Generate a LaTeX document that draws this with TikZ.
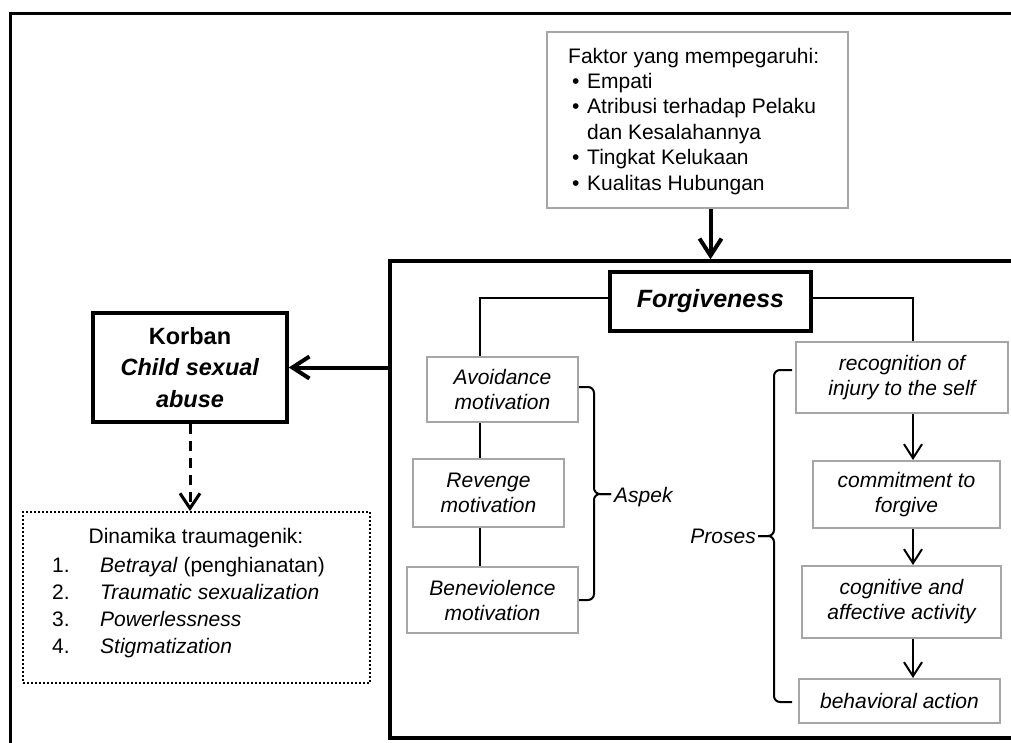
\documentclass[tikz,border=0pt]{standalone}
\usepackage{fontspec}
\setmainfont{Liberation Sans}
\usetikzlibrary{arrows.meta,calc}
\definecolor{boxgray}{RGB}{166,166,166}

\begin{document}
\begin{tikzpicture}[x=1pt,y=-1pt,
  every node/.style={inner sep=0pt, font=\fontsize{21}{25}\selectfont},
  graybox/.style={draw=boxgray, line width=2pt, align=center,
    font=\fontsize{21}{25}\selectfont\itshape},
  heavybox/.style={draw=black, line width=3.5pt, align=center},
  link/.style={line width=2pt},
  flow/.style={line width=2pt, -{Straight Barb[length=14pt,width=18pt]}},
  bigflow/.style={line width=4pt, -{Straight Barb[length=17pt,width=22pt]}},
  dashflow/.style={line width=3pt, dash pattern=on 10pt off 7pt,
    -{Straight Barb[length=15pt,width=20pt]}},
  bracket/.style={line width=2pt, rounded corners=6pt}
]
\useasboundingbox (0,0) rectangle (1011,742);
\clip (0,0) rectangle (1011,742);

% outer frame (runs off the page on the right and bottom)
\draw[line width=3pt] (10,800) -- (10,13) -- (1100,13);

% large frame holding the forgiveness part
\node[draw, line width=3.5pt, minimum width=710pt, minimum height=477pt] (frame) at (745,499.5) {};

% influencing factors
\node[graybox, minimum width=301pt, minimum height=176pt] (factor) at (697.5,120) {};
\node[anchor=base west] (factortext) at (568,63) {\fontsize{21}{25.4}\selectfont
  \begin{tabular}[t]{@{}l@{}}
  Faktor yang mempegaruhi:\\
  \hspace*{4pt}\makebox[15pt][l]{\textbullet}Empati\\
  \hspace*{4pt}\makebox[15pt][l]{\textbullet}Atribusi terhadap Pelaku\\
  \hspace*{19pt}dan Kesalahannya\\
  \hspace*{4pt}\makebox[15pt][l]{\textbullet}Tingkat Kelukaan\\
  \hspace*{4pt}\makebox[15pt][l]{\textbullet}Kualitas Hubungan
  \end{tabular}};

% central concept
\node[heavybox, minimum width=201pt, minimum height=59pt,
  font=\fontsize{25}{30}\selectfont\bfseries\itshape] (forg) at (710.5,301.5) {Forgiveness};

% victim
\node[heavybox, minimum width=194pt, minimum height=109pt,
  font=\fontsize{23.5}{31.5}\selectfont\bfseries] (korban) at (190,367.5)
  {Korban\\\textit{Child sexual}\\\textit{abuse}};

% traumagenic dynamics
\node[draw, line width=2pt, dash pattern=on 2pt off 2pt,
  minimum width=347pt, minimum height=171pt] (dyn) at (196.5,597.5) {};
\node[anchor=base] (dyntitle) at (196,543) {Dinamika traumagenik:};
\node[anchor=base west] (dynlist) at (52,572) {\fontsize{21}{27}\selectfont
  \begin{tabular}[t]{@{}l@{}}
  \makebox[48pt][l]{1.}\textit{Betrayal} (penghianatan)\\
  \makebox[48pt][l]{2.}\textit{Traumatic sexualization}\\
  \makebox[48pt][l]{3.}\textit{Powerlessness}\\
  \makebox[48pt][l]{4.}\textit{Stigmatization}
  \end{tabular}};

% aspects
\node[graybox, minimum width=151pt, minimum height=65pt] (avoid) at (502.5,389.5) {Avoidance\\motivation};
\node[graybox, minimum width=151pt, minimum height=68pt] (revenge) at (488.5,493) {Revenge\\motivation};
\node[graybox, minimum width=171pt, minimum height=66pt] (benev) at (492.5,600) {Beneviolence\\motivation};

% process steps
\node[graybox, minimum width=212pt, minimum height=71pt] (recog) at (902,377.5) {recognition of\\injury to the self};
\node[graybox, minimum width=187pt, minimum height=67pt] (commit) at (906.5,494.5) {commitment to\\forgive};
\node[graybox, minimum width=199pt, minimum height=72pt] (cogn) at (901.5,602) {cognitive and\\affective activity};
\node[graybox, minimum width=201pt, minimum height=44pt] (behav) at (899.5,701) {behavioral action};

\coordinate (lspine) at (480,0);
\coordinate (rspine) at (913,0);

% connectors
\draw[bigflow] (factor.south -| forg.north) -- (forg.north |- frame.north);
\draw[bigflow] (frame.west |- korban.east) -- (korban.east);
\draw[dashflow] (korban.south) -- (korban.south |- dyn.north);

\draw[link] ([yshift=4pt]forg.west) -| (lspine |- avoid.north);
\draw[link] (lspine |- avoid.south) -- (lspine |- revenge.north);
\draw[link] (lspine |- revenge.south) -- (lspine |- benev.north);

\draw[link] ([yshift=4pt]forg.east) -| (rspine |- recog.north);
\draw[flow] (rspine |- recog.south) -- (rspine |- commit.north);
\draw[flow] (rspine |- commit.south) -- (rspine |- cogn.north);
\draw[flow] (rspine |- cogn.south) -- (rspine |- behav.north);

% braces
\draw[bracket] (579,387) -- (594,387) -- (594,494) -- (611,494);
\draw[bracket] (579,600) -- (594,600) -- (594,494) -- (611,494);
\node[anchor=base west, font=\fontsize{21}{25}\selectfont\itshape] (aspek) at (614,502) {Aspek};

\draw[bracket] (792,370) -- (774,370) -- (774,536) -- (758,536);
\draw[bracket] (792,702) -- (774,702) -- (774,536) -- (758,536);
\node[anchor=base east, font=\fontsize{21}{25}\selectfont\itshape] (proses) at (756,543) {Proses};
\end{tikzpicture}
\end{document}
